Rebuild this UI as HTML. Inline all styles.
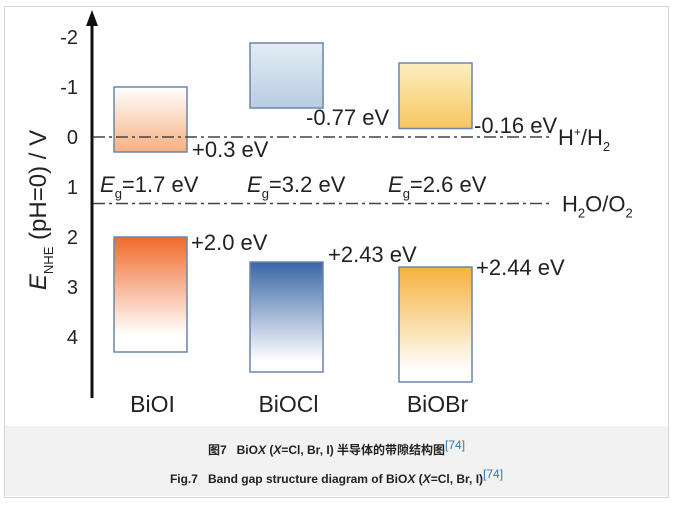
<!DOCTYPE html>
<html><head><meta charset="utf-8"><style>
body{margin:0;background:#fff;width:673px;height:507px;overflow:hidden;font-family:"Liberation Sans","Noto Sans CJK SC",sans-serif}
#frame{position:absolute;left:4px;top:6px;width:663px;height:490px;border:1px solid #d4d4d4;background:#fff}
#cap{position:absolute;left:5px;top:426px;width:663px;height:70px;background:#f2f2f2}
.c{position:absolute;width:663px;text-align:center;font-size:12px;color:#222;font-weight:bold}
sup{color:#2a7ab8;font-size:12px;font-weight:normal}
</style></head><body>
<div id="frame"></div>
<div id="cap">
<div class="c" style="top:12px">图7&nbsp;&nbsp; BiO<i>X</i> (<i>X</i>=Cl, Br, I) 半导体的带隙结构图<sup>[74]</sup></div>
<div class="c" style="top:41px">Fig.7&nbsp;&nbsp; Band gap structure diagram of BiO<i>X</i> (<i>X</i>=Cl, Br, I)<sup>[74]</sup></div>
</div>
<svg id="chart" width="673" height="507" style="position:absolute;left:0;top:0" font-family="Liberation Sans, sans-serif">
<defs>
<linearGradient id="g0c" x1="0" y1="0" x2="0" y2="1"><stop offset="0" stop-color="#fff"/><stop offset="1" stop-color="#f8b080"/></linearGradient>
<linearGradient id="g0v" x1="0" y1="0" x2="0" y2="1"><stop offset="0" stop-color="#f06a2a"/><stop offset="0.85" stop-color="#fff"/></linearGradient>
<linearGradient id="g1c" x1="0" y1="0" x2="0" y2="1"><stop offset="0" stop-color="#e4ecf5"/><stop offset="1" stop-color="#b9cce2"/></linearGradient>
<linearGradient id="g1v" x1="0" y1="0" x2="0" y2="1"><stop offset="0" stop-color="#3a66a6"/><stop offset="0.9" stop-color="#fff"/></linearGradient>
<linearGradient id="g2c" x1="0" y1="0" x2="0" y2="1"><stop offset="0" stop-color="#fdeec0"/><stop offset="1" stop-color="#f8c660"/></linearGradient>
<linearGradient id="g2v" x1="0" y1="0" x2="0" y2="1"><stop offset="0" stop-color="#f6b23c"/><stop offset="0.9" stop-color="#fff"/></linearGradient>
</defs>
<g id="plot"></g>
</svg>
<script>
const materials=["BiOI","BiOCl","BiOBr"];
const cbTop=[-1.0,-1.88,-1.48];
const cbBottom=[0.3,-0.58,-0.17];
const vbTop=[2.0,2.5,2.6];
const vbBottom=[4.3,4.7,4.9];
const cbLabels=["+0.3 eV","-0.77 eV","-0.16 eV"];
const vbLabels=["+2.0 eV","+2.43 eV","+2.44 eV"];
const gapLabels=["1.7 eV","3.2 eV","2.6 eV"];
const yTicks=[-2,-1,0,1,2,3,4];
const refLevels=[0,1.33];
const NS="http://www.w3.org/2000/svg";
const g=document.getElementById('plot');
function y(v){return 137+50*v;}
const xLeft=[114,250,399],boxW=73;
function mk(t,a,txt){const e=document.createElementNS(NS,t);for(const k in a)e.setAttribute(k,a[k]);if(txt!==undefined)e.textContent=txt;g.appendChild(e);return e;}
let ax=mk('line',{x1:92,y1:398,x2:92,y2:24,stroke:'#111','stroke-width':3});


let ar=mk('polygon',{points:'92,10 86,26 98,26',fill:'#111'});


yTicks.forEach(t=>{const e=mk('text',{x:78,y:y(t)+7,'text-anchor':'end','font-size':20,fill:'#222'},String(t));

});
let yt=mk('text',{transform:'translate(46,210) rotate(-90)','text-anchor':'middle','font-size':24,fill:'#222'});
yt.innerHTML='<tspan font-style="italic">E</tspan><tspan font-size="13" dy="7">NHE</tspan><tspan dy="-7"> (pH=0) / V</tspan>';


const cbX=[192,306,474],cbY=[157,125,133];
const vbX=[191,328,476],vbY=[250,262,275];
const gX=[100,247,388];
materials.forEach((m,i)=>{
 let r=mk('rect',{x:xLeft[i],y:y(cbTop[i]),width:boxW,height:y(cbBottom[i])-y(cbTop[i]),fill:'url(#g'+i+'c)',stroke:'#6a86ad','stroke-width':1.5});
 
 
 let v=mk('rect',{x:xLeft[i],y:y(vbTop[i]),width:boxW,height:y(vbBottom[i])-y(vbTop[i]),fill:'url(#g'+i+'v)',stroke:'#6a86ad','stroke-width':1.5});
 
 
 let n=mk('text',{x:xLeft[i]+boxW/2+2,y:412,'text-anchor':'middle','font-size':23,fill:'#222'},m);
 
 
 let cl=mk('text',{x:cbX[i],y:cbY[i],'font-size':22,fill:'#222'},cbLabels[i]);
 
 
 let vl=mk('text',{x:vbX[i],y:vbY[i],'font-size':22,fill:'#222'},vbLabels[i]);
 
 
 let gl=mk('text',{x:gX[i],y:192,'font-size':22,fill:'#222'});
 gl.innerHTML='<tspan font-style="italic">E</tspan><tspan font-size="13" dy="6">g</tspan><tspan dy="-6">='+gapLabels[i]+'</tspan>';
 
 
});
refLevels.forEach((v,i)=>{let l=mk('line',{x1:93,y1:y(v),x2:553,y2:y(v),stroke:'#444','stroke-width':1.5,'stroke-dasharray':'12 4 3 4'});
 
 });
let h1=mk('text',{x:558,y:y(0)+8,'font-size':22,fill:'#222'});
h1.innerHTML='H<tspan font-size="12" dy="-9">+</tspan><tspan dy="9">/H</tspan><tspan font-size="13" dy="6">2</tspan>';


let h2=mk('text',{x:562,y:y(1.33)+8,'font-size':22,fill:'#222'});
h2.innerHTML='H<tspan font-size="13" dy="6">2</tspan><tspan dy="-6">O/O</tspan><tspan font-size="13" dy="6">2</tspan>';


</script>
</body></html>
